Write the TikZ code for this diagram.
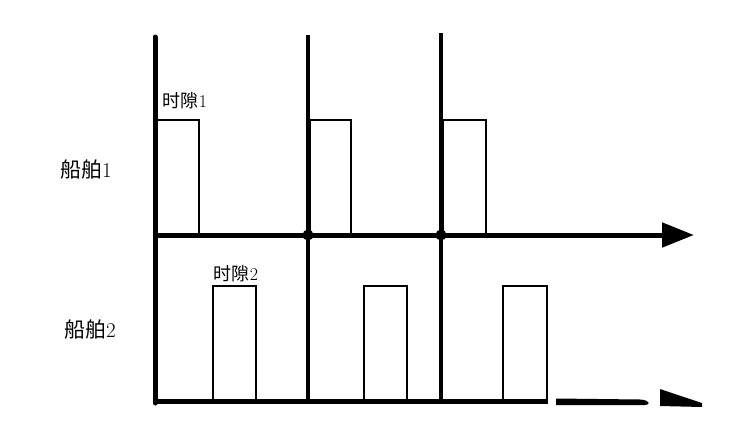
\documentclass[tikz,border=0pt]{standalone}
\usepackage{fontspec}
\newfontfamily\cjk{Noto Sans CJK SC}
\usetikzlibrary{arrows.meta}

\begin{document}
\begin{tikzpicture}[x=1pt,y=-1pt]
    \useasboundingbox (0,0) rectangle (729,442);

        % labels
        \begin{scope}[every node/.style={inner sep=0pt}]
            \node[font=\fontsize{21}{21}\selectfont] (ship1) at (86,170) {{\cjk 船舶}1};
            \node[font=\fontsize{21}{21}\selectfont] (ship2) at (90,330) {{\cjk 船舶}2};
            \node[font=\fontsize{18}{18}\selectfont] (slot1) at (185,101) {{\cjk 时隙}1};
            \node[font=\fontsize{18}{18}\selectfont] (slot2) at (236,274) {{\cjk 时隙}2};
        \end{scope}

        % time slots
        \begin{scope}[every node/.style={draw,line width=1.8pt,inner sep=0pt,anchor=south west}]
            \node[minimum width=42pt,minimum height=114pt] (s1) at (156,235) {};
            \node[minimum width=41pt,minimum height=114pt] (s2) at (309,235) {};
            \node[minimum width=43pt,minimum height=114pt] (s3) at (442,235) {};
            \node[minimum width=43pt,minimum height=114pt] (t1) at (212,401) {};
            \node[minimum width=43pt,minimum height=114pt] (t2) at (363,401) {};
            \node[minimum width=44pt,minimum height=114pt] (t3) at (502,401) {};
        \end{scope}

        \coordinate (top0) at (155,37);
        \coordinate (top1) at (308,35);
        \coordinate (top2) at (441,33);
        \coordinate (bot0) at (155,403);
        \coordinate (bot1) at (308,401);
        \coordinate (bot2) at (441,401);
        \coordinate (o) at (153,235);
        \coordinate (end) at (694,235);
        \coordinate (b) at (153,401);
        \coordinate (bend) at (548,401);

        % axes
        \draw[line width=5pt,line cap=round] (top0) -- (bot0);
        \draw[line width=3.5pt] (top1) -- (bot1);
        \draw[line width=3.5pt] (top2) -- (bot2);
        \draw[line width=5pt,-{Triangle[length=32pt,width=24pt]}] (o) -- (end);
        \draw[line width=5pt] (b) -- (bend);
        \fill (bot1 |- o) circle (5.5pt);
        \fill (bot2 |- o) circle (5.5pt);

        % broken arrow at the bottom
        \fill (556,398.5) -- (640,399.5) .. controls (650,400) and (651,405) .. (645,405) -- (556,405) -- cycle;
        \fill (660,389) -- (702,403) -- (702,407) -- (660,406) -- cycle;

    \end{tikzpicture}
\end{document}
